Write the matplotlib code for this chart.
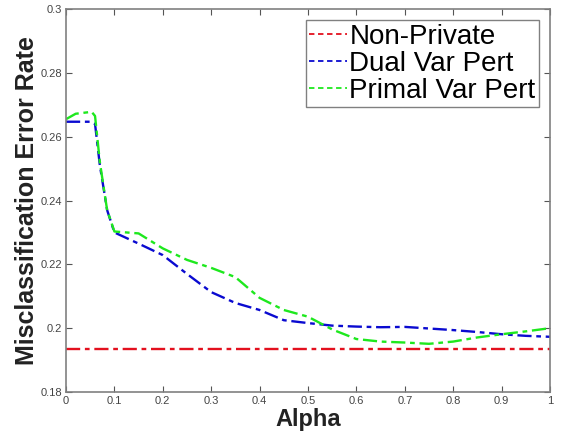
import matplotlib.pyplot as plt
from matplotlib.lines import Line2D

alpha_red = [0.0, 1.0]
non_private = [0.1934, 0.1934]

alpha_blue = [0.0, 0.05, 0.06, 0.07, 0.085, 0.1, 0.15, 0.2, 0.25, 0.3, 0.35, 0.4,
              0.45, 0.5, 0.55, 0.6, 0.65, 0.7, 0.75, 0.8, 0.85, 0.9, 0.95, 1.0]
dual_var = [0.2647, 0.2647, 0.2640, 0.2510, 0.2370, 0.2300, 0.2265, 0.2229, 0.2170,
            0.2113, 0.2079, 0.2057, 0.2025, 0.2016, 0.2008, 0.2005, 0.2003, 0.2004,
            0.1999, 0.1994, 0.1988, 0.1981, 0.1976, 0.1973]

alpha_green = [0.0, 0.02, 0.053, 0.06, 0.07, 0.085, 0.1, 0.15, 0.2, 0.25, 0.3, 0.35,
               0.4, 0.45, 0.5, 0.55, 0.6, 0.65, 0.7, 0.75, 0.8, 0.85, 0.9, 0.95, 1.0]
primal_var = [0.2655, 0.2672, 0.2678, 0.2665, 0.2520, 0.2370, 0.2303, 0.2297, 0.2250,
              0.2214, 0.2189, 0.2160, 0.2095, 0.2057, 0.2036, 0.1996, 0.1966, 0.1958,
              0.1955, 0.1951, 0.1958, 0.1971, 0.1981, 0.1990, 0.2000]

labels = ["Non-Private", "Dual Var Pert", "Primal Var Pert"]
colors = ["#e3101e", "#0a0ad0", "#1ee81e"]

plt.rcParams["font.family"] = ["Liberation Sans", "DejaVu Sans"]

fig = plt.figure(figsize=(5.66, 4.33), dpi=100)
ax = fig.add_axes([0.1166, 0.0947, 0.8551, 0.8843])

dashdot = (0, (6, 2, 2, 2))
ax.plot(alpha_red, non_private, color=colors[0], lw=1.7, ls=dashdot)
ax.plot(alpha_blue, dual_var, color=colors[1], lw=1.7, ls=dashdot)
ax.plot(alpha_green, primal_var, color=colors[2], lw=1.7, ls=dashdot)

ax.set_xlim(0, 1)
ax.set_ylim(0.18, 0.3)
ax.set_xticks([0, 0.1, 0.2, 0.3, 0.4, 0.5, 0.6, 0.7, 0.8, 0.9, 1])
ax.set_xticklabels(["0", "0.1", "0.2", "0.3", "0.4", "0.5", "0.6", "0.7", "0.8", "0.9", "1"])
ax.set_yticks([0.18, 0.2, 0.22, 0.24, 0.26, 0.28, 0.3])
ax.set_yticklabels(["0.18", "0.2", "0.22", "0.24", "0.26", "0.28", "0.3"])
ax.tick_params(direction="in", top=True, right=True, length=4, width=0.8,
               color="#555555", labelcolor="#444444", labelsize=8, pad=3)
for s in ax.spines.values():
    s.set_color("#808080")
    s.set_linewidth(1.2)

ax.set_xlabel("Alpha", fontsize=17, fontweight="bold", color="#222222")
ax.xaxis.set_label_coords(0.5, -0.043)
ax.set_ylabel("Misclassification Error Rate", fontsize=18, fontweight="bold",
              color="#222222")
ax.yaxis.set_label_coords(-0.055, 0.5)

# legend handles drawn as short dashes like the original
handles = [Line2D([], [], color=c, lw=1.3, ls=(0, (3, 2))) for c in colors]
leg = ax.legend(handles, labels, loc="upper right", fontsize=20, handlelength=1.35,
                handletextpad=0.1, borderpad=0.12, labelspacing=0.04, fancybox=False,
                framealpha=1, borderaxespad=0.4)
leg.get_frame().set_edgecolor("#808080")
leg.get_frame().set_linewidth(1.0)

fig.savefig("out.png", dpi=100)
